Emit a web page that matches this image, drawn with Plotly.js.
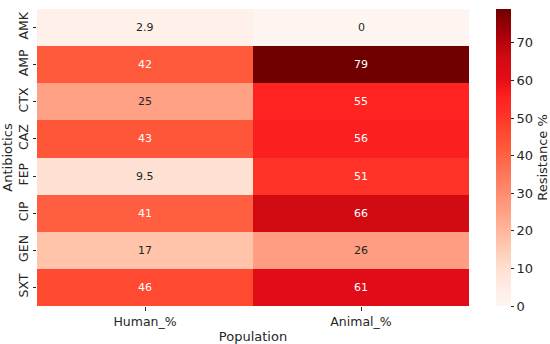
<!DOCTYPE html>
<html><head><meta charset="utf-8">
<script src="https://cdn.plot.ly/plotly-3.0.1.min.js"></script>
<style>html,body{margin:0;padding:0;background:#fff}#chart{width:550px;height:344px}</style>
</head><body><div id="chart"></div>
<script>
const antibiotics = ["AMK","AMP","CTX","CAZ","FEP","CIP","GEN","SXT"];
const populations = ["Human_%","Animal_%"];
const humanPct = [2.9, 42, 25, 43, 9.5, 41, 17, 46];
const animalPct = [0, 79, 55, 56, 51, 66, 26, 61];
const humanLabels = ["2.9","42","25","43","9.5","41","17","46"];
const animalLabels = ["0","79","55","56","51","66","26","61"];

const z = antibiotics.map((a,i)=>[humanPct[i], animalPct[i]]);
const labels = antibiotics.map((a,i)=>[humanLabels[i], animalLabels[i]]);

const colorscale = [
 [0.0,"#fff5f0"],[0.04,"#fff0e9"],[0.12,"#ffe1d4"],[0.215,"#ffc4aa"],
 [0.32,"#fea084"],[0.53,"#ff5a3c"],[0.58,"#ff4a30"],[0.645,"#ff3228"],
 [0.70,"#ff2220"],[0.77,"#e20c17"],[0.835,"#d20a12"],[0.92,"#a50008"],[1.0,"#700000"]
];

const annotations = [];
antibiotics.forEach((a,i)=>{
  populations.forEach((p,j)=>{
    const v = z[i][j];
    annotations.push({x:p, y:a, xref:"x", yref:"y", text:labels[i][j], showarrow:false,
      font:{family:"DejaVu Sans", size:11, color: v > 35 ? "#ffffff" : "#262626"}});
  });
});

const trace = {
  type:"heatmap", x:populations, y:antibiotics, z:z,
  zmin:0, zmax:79, colorscale:colorscale, hoverinfo:"skip",
  colorbar:{
    x:1.0625, xanchor:"left", xpad:0, y:0.5, yanchor:"middle", len:1, lenmode:"fraction", ypad:0,
    thickness:15, outlinewidth:0, tickmode:"linear", tick0:0, dtick:10,
    ticks:"outside", ticklen:3.5, tickwidth:1, tickcolor:"#262626",
    tickfont:{family:"DejaVu Sans", size:13, color:"#262626"},
    title:{text:"Resistance %", side:"right", font:{family:"DejaVu Sans", size:13, color:"#262626"}}
  }
};

const layout = {
  width:550, height:344,
  margin:{l:37, r:81, t:8.5, b:38, autoexpand:false},
  paper_bgcolor:"#fff", plot_bgcolor:"#fff",
  xaxis:{type:"category", ticks:"outside", ticklen:3.5, tickcolor:"#262626", showgrid:false, zeroline:false, showline:false,
    tickfont:{family:"DejaVu Sans", size:12.5, color:"#262626"},
    title:{text:"Population", standoff:4, font:{family:"DejaVu Sans", size:13, color:"#262626"}}},
  yaxis:{type:"category", autorange:"reversed", ticks:"outside", ticklen:3.5, tickcolor:"#262626", showgrid:false, zeroline:false, showline:false,
    tickangle:-90, tickfont:{family:"DejaVu Sans", size:12.5, color:"#262626"},
    title:{text:"Antibiotics", standoff:2, font:{family:"DejaVu Sans", size:13, color:"#262626"}}},
  annotations:annotations
};
Plotly.newPlot("chart",[trace],layout,{displayModeBar:false, staticPlot:true});
</script></body></html>
